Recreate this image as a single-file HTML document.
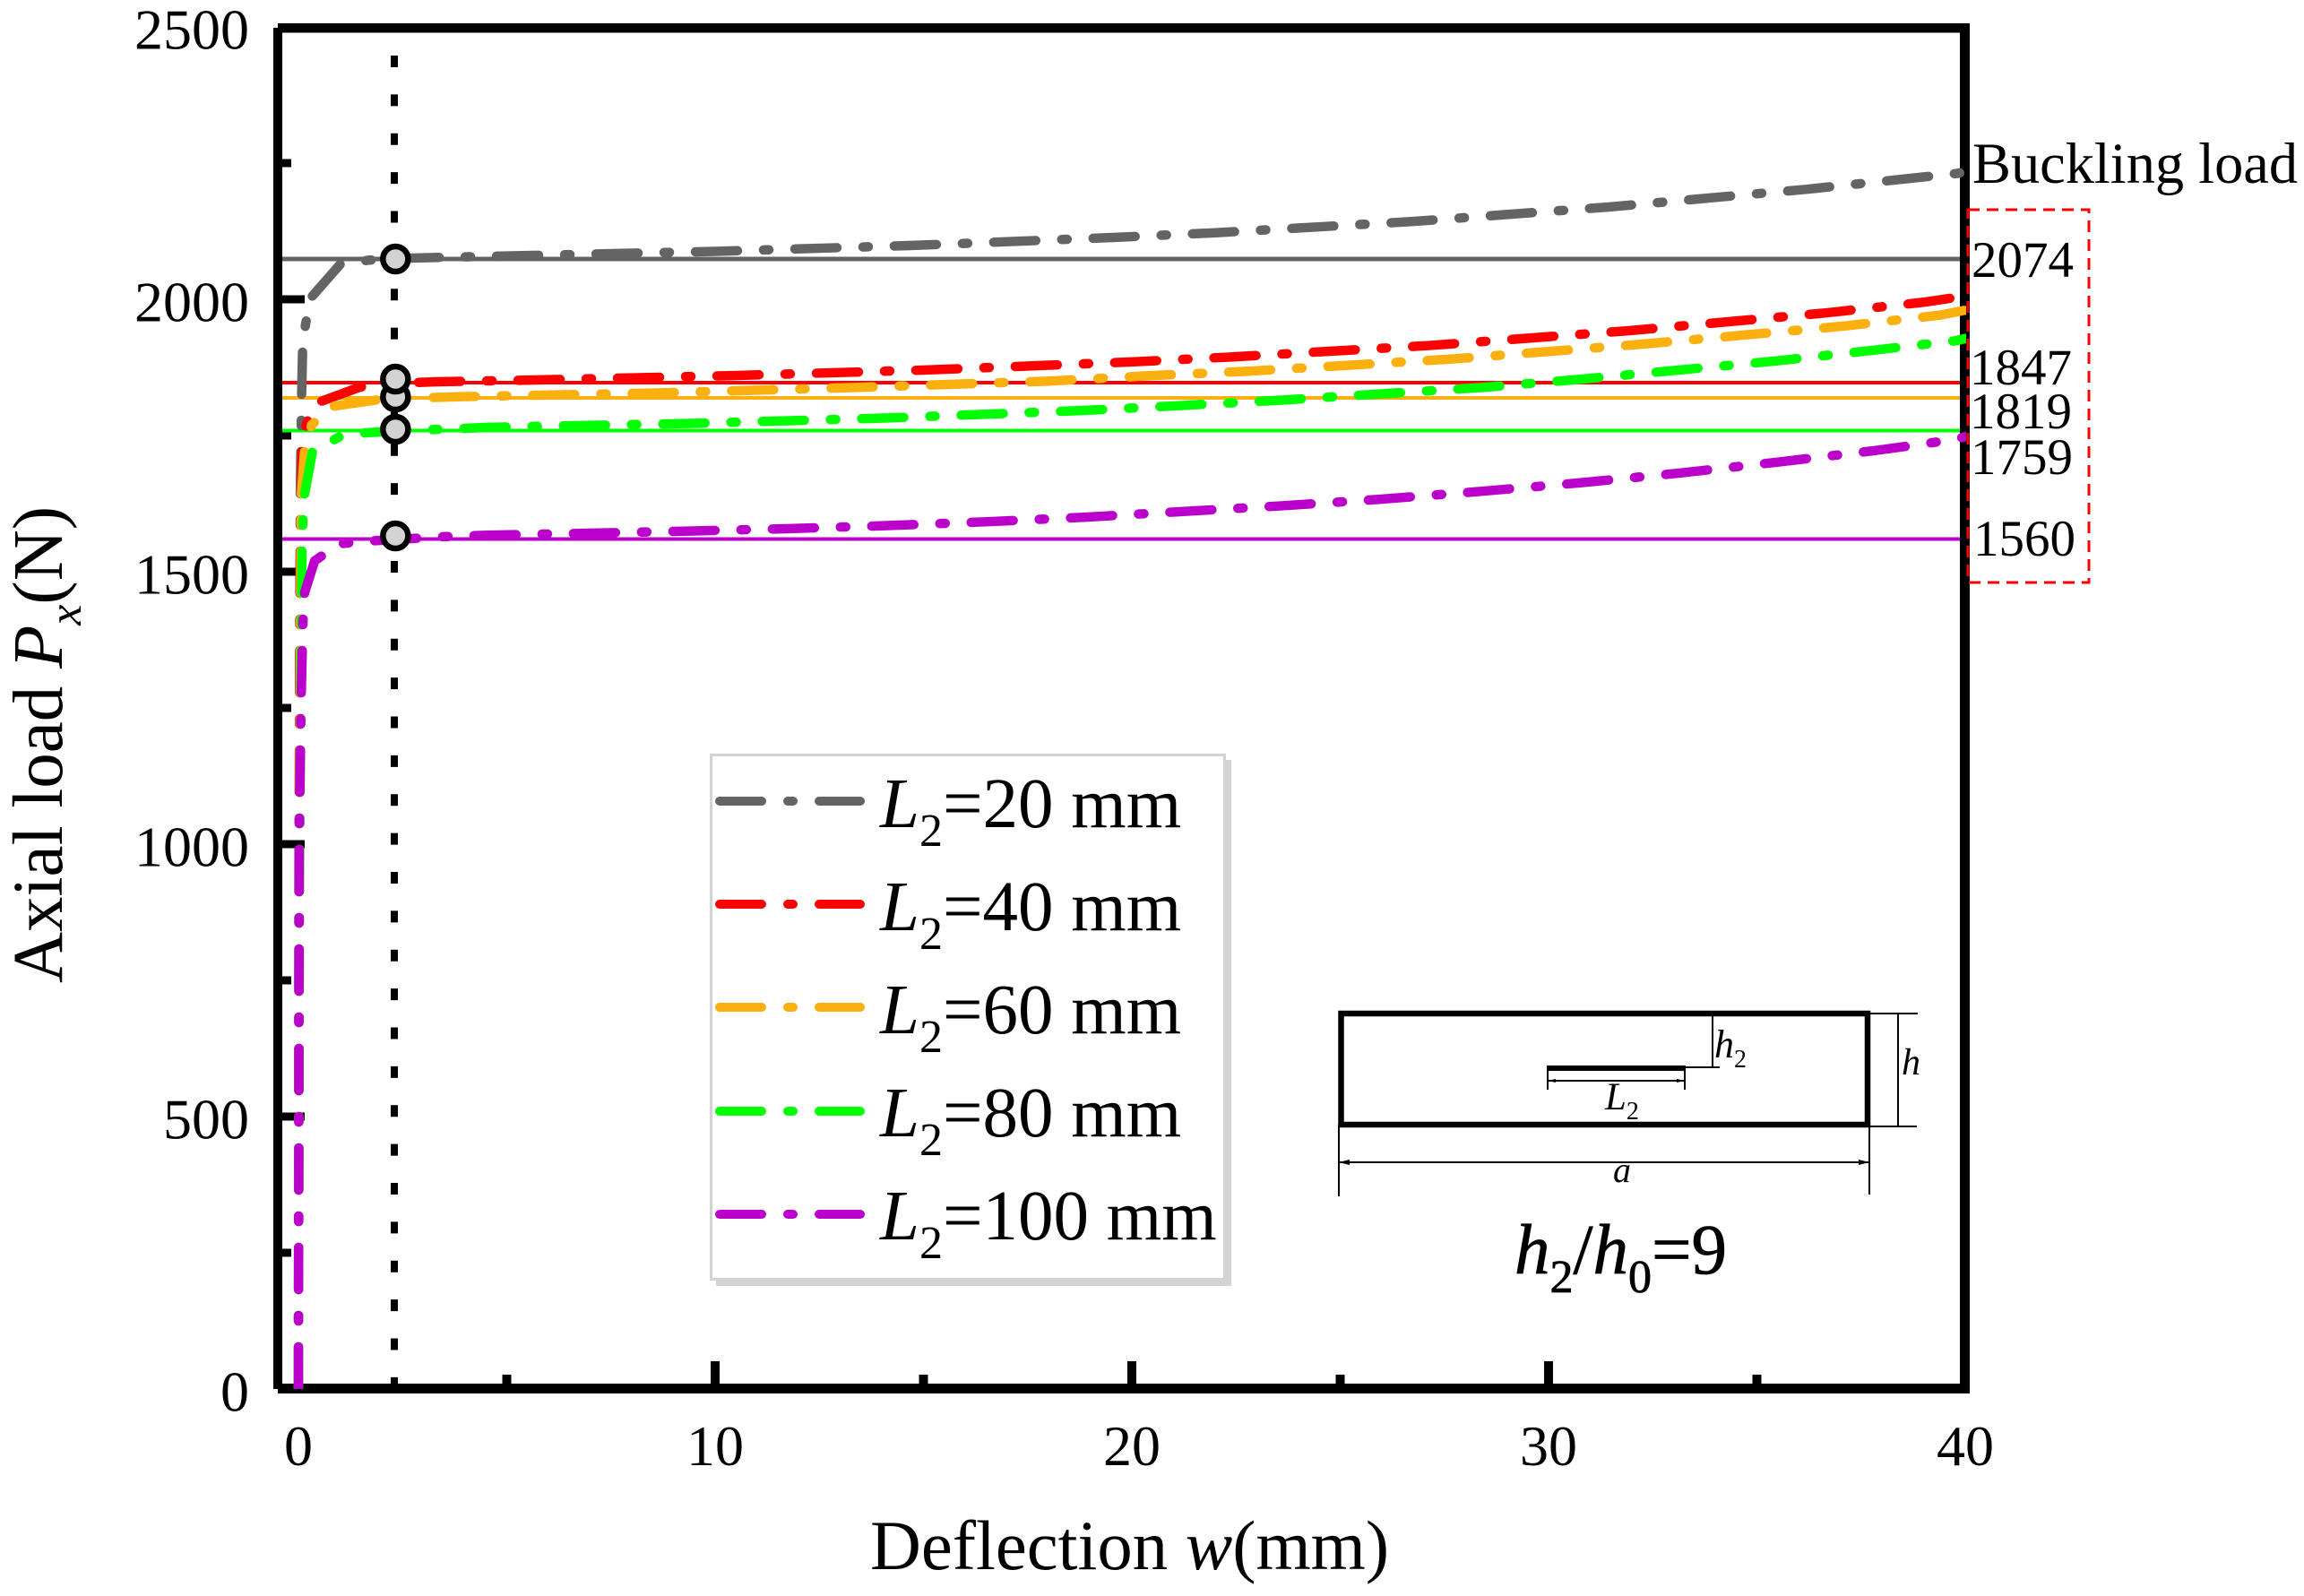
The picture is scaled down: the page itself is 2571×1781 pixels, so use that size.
<!DOCTYPE html>
<html>
<head>
<meta charset="utf-8">
<title>Axial load vs deflection</title>
<style>
html,body{margin:0;padding:0;background:#fff;}
svg{display:block;}
text{font-family:"Liberation Serif",serif;fill:#000;}
.i{font-style:italic;}
</style>
</head>
<body>
<svg id="chart" xmlns="http://www.w3.org/2000/svg" width="2571" height="1781" viewBox="0 0 2571 1781">
  <defs><clipPath id="plot-clip"><rect x="300" y="20" width="1894" height="1530"/></clipPath></defs>
  <rect x="0" y="0" width="2571" height="1781" fill="#fff"/>
  <g id="axis-layer"></g>
  <g id="ref-layer"></g>
  <g id="curve-layer" clip-path="url(#plot-clip)"></g>
  <line x1="440" y1="62" x2="440" y2="1544" stroke="#000" stroke-width="8" stroke-dasharray="13 30.38"/>
  <g id="marker-layer"></g>

  <text transform="translate(69,1097) rotate(-90)" font-size="79">Axial load <tspan class="i">P</tspan><tspan class="i" font-size="52" dy="21">x</tspan><tspan dy="-21">(N)</tspan></text>
  <text x="971" y="1751" font-size="78.7">Deflection <tspan class="i">w</tspan>(mm)</text>

  <text x="2201" y="204" font-size="64.4">Buckling load</text>
  <rect x="2196" y="234" width="135" height="416" fill="none" stroke="#ff0000" stroke-width="3" stroke-dasharray="13 8"/>

  <g>
    <rect x="799" y="848" width="575" height="587" fill="#d3d3d3"/>
    <rect x="793.5" y="842.5" width="573" height="585" fill="#fff" stroke="#d3d3d3" stroke-width="3"/>
    <g>
      <path d="M803 894H850M879 894H885M914 894H960" stroke="#646464" stroke-width="10" stroke-linecap="round" fill="none"/>
      <text x="982" y="923" font-size="79"><tspan class="i">L</tspan><tspan font-size="52" dy="21">2</tspan><tspan dy="-21">=20 mm</tspan></text>
    </g>
    <g>
      <path d="M803 1009H850M879 1009H885M914 1009H960" stroke="#ff0000" stroke-width="10" stroke-linecap="round" fill="none"/>
      <text x="982" y="1038" font-size="79"><tspan class="i">L</tspan><tspan font-size="52" dy="21">2</tspan><tspan dy="-21">=40 mm</tspan></text>
    </g>
    <g>
      <path d="M803 1124H850M879 1124H885M914 1124H960" stroke="#fab00e" stroke-width="10" stroke-linecap="round" fill="none"/>
      <text x="982" y="1153" font-size="79"><tspan class="i">L</tspan><tspan font-size="52" dy="21">2</tspan><tspan dy="-21">=60 mm</tspan></text>
    </g>
    <g>
      <path d="M803 1240H850M879 1240H885M914 1240H960" stroke="#00ff00" stroke-width="10" stroke-linecap="round" fill="none"/>
      <text x="982" y="1268" font-size="79"><tspan class="i">L</tspan><tspan font-size="52" dy="21">2</tspan><tspan dy="-21">=80 mm</tspan></text>
    </g>
    <g>
      <path d="M803 1355H850M879 1355H885M914 1355H960" stroke="#bb00cc" stroke-width="10" stroke-linecap="round" fill="none"/>
      <text x="982" y="1383" font-size="79"><tspan class="i">L</tspan><tspan font-size="52" dy="21">2</tspan><tspan dy="-21">=100 mm</tspan></text>
    </g>
  </g>

  <g>
    <rect x="1496.5" y="1131" width="587.5" height="124" fill="none" stroke="#000" stroke-width="6.5"/>
    <rect x="1726" y="1189" width="155" height="6" fill="#000"/>
    <g stroke="#000" stroke-width="2" fill="none">
      <path d="M1880 1191H1919M1911 1133V1191"/>
      <path d="M1727 1195V1216M1880 1195V1216M1727 1206H1880"/>
      <path d="M2087 1131H2140M2087 1257H2139M2118 1131V1257"/>
      <path d="M1494 1255V1335M2086 1255V1333M1494 1297H2086"/>
    </g>
    <path d="M1494 1297l12 -3v6zM2086 1297l-12 -3v6zM1727 1206l9 -2v4zM1880 1206l-9 -2v4z" fill="#000"/>
    <text x="1913" y="1180" font-size="44"><tspan class="i">h</tspan><tspan font-size="28" dy="11">2</tspan></text>
    <text x="1791" y="1238" font-size="43"><tspan class="i">L</tspan><tspan font-size="28" dy="11">2</tspan></text>
    <text x="2122" y="1199" font-size="42" class="i">h</text>
    <text x="1800" y="1319" font-size="40" class="i">a</text>
    <text x="1690" y="1421" font-size="79" style="stroke:#000;stroke-width:0.8"><tspan class="i">h</tspan><tspan font-size="52" dy="21">2</tspan><tspan dy="-21">/</tspan><tspan class="i">h</tspan><tspan font-size="52" dy="21">0</tspan><tspan dy="-21">=9</tspan></text>
  </g>
</svg>
<script>
// ---- data ----
var xMajorTicks = [0, 10, 20, 30, 40];
var xMinorTicks = [5, 15, 25, 35];
var yMajorTicks = [0, 500, 1000, 1500, 2000, 2500];
var yMinorTicks = [250, 750, 1250, 1750, 2250];

var seriesNames = ['l2-20', 'l2-40', 'l2-60', 'l2-80', 'l2-100'];
var seriesColors = ['#646464', '#ff0000', '#fab00e', '#00ff00', '#bb00cc'];

var wL20 = [0, 0.01, 0.045, 0.075, 0.1, 0.17, 0.3, 1.0, 1.7, 2.33, 3.44, 5.25, 10.02, 14.8, 19.55, 21.96, 26.7, 31.44, 36.2, 39.8, 40];
var pL20 = [0, 900, 1636, 1817, 1908, 1954, 2003, 2064, 2072, 2075, 2077, 2080, 2088, 2099, 2113.5, 2122, 2142.6, 2169.4, 2202, 2231, 2234];
var wL40 = [0, 0.02, 0.04, 0.086, 0.19, 0.41, 1.48, 2.3, 3.33, 5.68, 10.45, 15.2, 19.98, 22.34, 27.1, 31.87, 36.65, 39, 40];
var pL40 = [0, 900, 1497, 1727, 1771, 1809, 1839, 1846, 1848.7, 1852, 1860, 1870.6, 1885, 1894, 1915, 1942, 1975, 1994.6, 2006];
var wL60 = [0, 0.02, 0.065, 0.15, 0.32, 0.86, 1.94, 2.32, 3.74, 8.52, 13.3, 18.04, 20.4, 22.8, 27.6, 32.3, 37.1, 39.4, 40];
var pL60 = [0, 900, 1636, 1724, 1770, 1804, 1816, 1817.6, 1821, 1828, 1838, 1850, 1859.7, 1868, 1890, 1918, 1951, 1971, 1980];
var wL80 = [0, 0.02, 0.086, 0.107, 0.15, 0.34, 0.97, 1.59, 2.33, 4.54, 9.29, 14.06, 18.84, 21.18, 23.6, 28.37, 30.73, 35.48, 37.85, 39.78, 40];
var pL80 = [0, 900, 1538, 1589, 1643, 1722, 1747, 1755, 1758, 1765, 1772, 1782, 1796, 1805, 1815, 1838, 1853, 1887, 1907, 1924, 1928];
var wL100 = [0, 0.02, 0.06, 0.107, 0.15, 0.39, 0.97, 1.59, 2.33, 3.35, 4.54, 6.95, 9.29, 11.72, 14.06, 16.47, 18.84, 23.6, 25.96, 28.37, 30.73, 33.14, 35.48, 37.85, 39.78, 40];
var pL100 = [0, 1000, 1250, 1404, 1462, 1520, 1551, 1556, 1559, 1564, 1567, 1570.7, 1574.5, 1579, 1584.4, 1591.6, 1600, 1621, 1633, 1647.5, 1663, 1681, 1701, 1722.5, 1743, 1748];

var bucklingLoads = [2074, 1847, 1819, 1759, 1560];
var bucklingLabels = ['2074', '1847', '1819', '1759', '1560'];
var markerDeflection = 2.33;
var markerLoads = [2074, 1853.6, 1820.7, 1761.5, 1565.8];
var markerOrder = [0, 2, 1, 3, 4];

// ---- scales ----
function X(v) { return 333 + 46.5 * v; }
function Y(v) { return 1550 - 0.608 * v; }

var NS = 'http://www.w3.org/2000/svg';
function make(tag, parent, attrs, txt) {
  var el = document.createElementNS(NS, tag);
  for (var k in attrs) el.setAttribute(k, attrs[k]);
  if (txt !== undefined) el.textContent = txt;
  parent.appendChild(el);
  return el;
}
var axisLayer = document.getElementById('axis-layer');
var refLayer = document.getElementById('ref-layer');
var curveLayer = document.getElementById('curve-layer');
var markerLayer = document.getElementById('marker-layer');

// ---- axes frame ----
var frameTop = make('rect', axisLayer, {x: 310, y: 26, width: 1888, height: 10.5, fill: '#000'});


var frameLeft = make('rect', axisLayer, {x: 305, y: 31, width: 10, height: 1519, fill: '#000'});


var frameRight = make('rect', axisLayer, {x: 2187, y: 26, width: 11, height: 1529, fill: '#000'});


var frameBottom = make('rect', axisLayer, {x: 310, y: 1544, width: 1888, height: 11, fill: '#000'});



// ---- x ticks ----
xMajorTicks.forEach(function (v) {
  var t = make('rect', axisLayer, {x: X(v) - 5, y: 1519, width: 10, height: 26, fill: '#000'});
  
  
  var l = make('text', axisLayer, {x: X(v), y: 1635, 'font-size': 64, 'text-anchor': 'middle'}, String(v));
  
  
});
xMinorTicks.forEach(function (v) {
  var t = make('rect', axisLayer, {x: X(v) - 5, y: 1534, width: 10, height: 11, fill: '#000'});
  
  
});

// ---- y ticks ----
yMajorTicks.forEach(function (v) {
  if (v > 0 && v < 2500) {
    var t = make('rect', axisLayer, {x: 314, y: Y(v) - 4.5, width: 26, height: 9, fill: '#000'});
    
    
  }
  var l = make('text', axisLayer, {x: 278, y: Y(v) + 24.5, 'font-size': 64, 'text-anchor': 'end'}, String(v));
  
  
});
yMinorTicks.forEach(function (v) {
  var t = make('rect', axisLayer, {x: 314, y: Y(v) - 4.5, width: 11, height: 9, fill: '#000'});
  
  
});

// ---- reference lines and printed values ----
var refWidths = [5, 4, 4, 4, 4];
var labelX = [2200, 2198, 2198, 2199, 2202];
var labelY = [309, 429, 478, 529, 620];
bucklingLoads.forEach(function (v, i) {
  var ln = make('line', refLayer, {x1: 315, x2: 2187, y1: Y(v), y2: Y(v), stroke: seriesColors[i], 'stroke-width': refWidths[i]});
  
  
  var tx = make('text', refLayer, {x: labelX[i], y: labelY[i], 'font-size': 57}, bucklingLabels[i]);
  
  
});

// ---- curves ----
var seriesW = [wL20, wL40, wL60, wL80, wL100];
var seriesP = [pL20, pL40, pL60, pL80, pL100];
seriesNames.forEach(function (name, i) {
  var d = seriesW[i].map(function (w, j) {
    return (j ? 'L' : 'M') + X(w).toFixed(2) + ' ' + Y(seriesP[i][j]).toFixed(2);
  }).join('');
  var p = make('path', curveLayer, {d: d, fill: 'none', stroke: seriesColors[i], 'stroke-width': 10.5, 'stroke-linecap': 'round', 'stroke-linejoin': 'round', 'stroke-dasharray': '47 29 6 29'});
  
  
});

// ---- markers ----
markerOrder.forEach(function (i) {
  var c = make('circle', markerLayer, {cx: X(markerDeflection), cy: Y(markerLoads[i]), r: 14, fill: '#d3d3d3', stroke: '#000', 'stroke-width': 6.5});
  
  
});
</script>
</body>
</html>
